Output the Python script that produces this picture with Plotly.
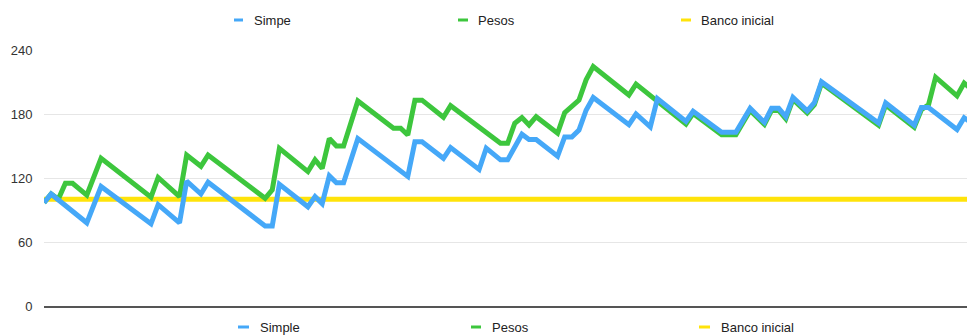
import plotly.graph_objects as go

# Bet number (x) and bankroll (y) at each turning point of the two staking runs
simple_bets = [0, 1, 6, 8, 15, 16, 19, 20, 22, 23, 31, 32, 33, 37, 38, 39, 40, 41, 42, 44,
               51, 52, 53, 56, 57, 61, 62, 64, 65, 67, 68, 69, 72, 73, 74, 75, 76, 77, 82, 83,
               85, 86, 90, 91, 95, 97, 99, 101, 102, 103, 104, 105, 107, 108, 109, 117, 118,
               122, 123, 124, 128, 129, 130]
simple_bank = [97, 105, 78, 112, 77, 95, 78, 117, 105, 116, 75, 75, 114, 93, 102.5, 96, 122,
               115.5, 115.5, 157, 121.5, 154, 154, 138.5, 148.5, 128, 148, 137, 137, 161, 156,
               156, 140.5, 158.5, 158.5, 165, 183.5, 195.5, 170, 180, 168, 194.5, 173, 182.5,
               162.8, 162.8, 185.3, 172.2, 185.3, 185.3, 177.5, 195.6, 183, 190.6, 210.3,
               171.5, 190.5, 169.5, 186, 186, 165.5, 176.5, 172]

pesos_bets = [0, 1, 2, 3, 4, 6, 8, 15, 16, 19, 20, 22, 23, 31, 32, 33, 37, 38, 39, 40, 41, 42,
              44, 49, 50, 51, 52, 53, 56, 57, 64, 65, 66, 67, 68, 69, 72, 73, 75, 76, 77, 82,
              83, 86, 90, 91, 95, 97, 99, 101, 102, 103, 104, 105, 107, 108, 109, 117, 118,
              122, 123, 124, 125, 128, 129, 130]
pesos_bank = [97, 105, 100, 115, 115, 104, 138.5, 102, 120.5, 102.5, 141.5, 131, 141.5, 101,
              108.8, 147.8, 126, 137, 129, 157, 150, 150, 192.2, 166.6, 166.6, 160.3, 193, 193,
              177, 187.8, 152.5, 152.5, 171.3, 176.6, 169.7, 177.5, 162, 181.3, 193.1, 212,
              224.4, 197.8, 208, 192.5, 170.5, 180.5, 160.5, 160.5, 183.3, 170.2, 183.3, 183.3,
              175.5, 193.6, 181, 188.6, 208.8, 169.5, 188.5, 167.5, 184, 188.5, 214.5, 197,
              209, 203.5]

banco_bets = [0, 130]
banco_bank = [100, 100]

y_ticks = [0, 60, 120, 180, 240]

top_legend = ["Simpe", "Pesos", "Banco inicial"]
bottom_legend = ["Simple", "Pesos", "Banco inicial"]

BLUE = "#45A8F8"
GREEN = "#3DC63D"
YELLOW = "#FFE30A"
colors = [BLUE, GREEN, YELLOW]

W, H = 967, 336
L, R, T, B = 44, 0, 50, 30
plot_w = W - L - R
plot_h = H - T - B

fig = go.Figure()
fig.add_trace(go.Scatter(x=banco_bets, y=banco_bank, mode="lines", name="Banco inicial",
                         line=dict(color=YELLOW, width=5)))
fig.add_trace(go.Scatter(x=pesos_bets, y=pesos_bank, mode="lines", name="Pesos",
                         line=dict(color=GREEN, width=5)))
fig.add_trace(go.Scatter(x=simple_bets, y=simple_bank, mode="lines", name="Simple",
                         line=dict(color=BLUE, width=5)))


def px_to_paper_x(px):
    return (px - L) / plot_w


def px_to_paper_y(py):
    return (H - B - py) / plot_h


shapes = []
annotations = []
legend_rows = [
    (20, top_legend, [(234, 243), (458, 468), (681, 691)], [252, 476, 699]),
    (327, bottom_legend, [(238, 249), (471, 481), (699, 710)], [258, 490, 719]),
]
for py, labels, marks, text_x in legend_rows:
    for label, (m0, m1), tx, col in zip(labels, marks, text_x, colors):
        shapes.append(dict(type="line", xref="paper", yref="paper",
                           x0=px_to_paper_x(m0), x1=px_to_paper_x(m1),
                           y0=px_to_paper_y(py), y1=px_to_paper_y(py),
                           line=dict(color=col, width=3)))
        annotations.append(dict(text=label, xref="paper", yref="paper",
                                x=px_to_paper_x(tx), y=px_to_paper_y(py),
                                xanchor="left", yanchor="middle", showarrow=False,
                                font=dict(family="Liberation Sans, Arial, sans-serif",
                                          size=13, color="#222222")))

fig.update_layout(
    width=W, height=H,
    margin=dict(l=L, r=R, t=T, b=B, pad=0),
    paper_bgcolor="white", plot_bgcolor="white",
    showlegend=False,
    shapes=shapes,
    annotations=annotations,
    xaxis=dict(range=[0, 129.4], showgrid=False, zeroline=False, showticklabels=False,
               showline=True, linecolor="#555555", linewidth=2, ticks=""),
    yaxis=dict(range=[0, 240], tickvals=y_ticks, showgrid=True, gridcolor="#e6e6e6",
               gridwidth=1, zeroline=False, showline=False,
               ticks="outside", ticklen=8, tickcolor="rgba(0,0,0,0)",
               tickfont=dict(family="Liberation Sans, Arial, sans-serif", size=13,
                             color="#333333")),
)

fig.write_html("out.html")
